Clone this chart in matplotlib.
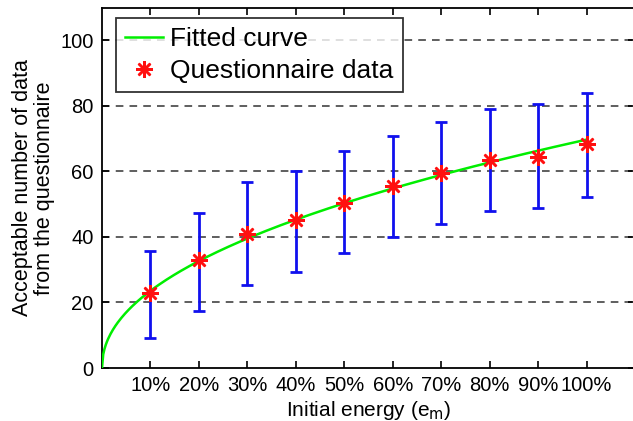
import numpy as np
import matplotlib
matplotlib.use("Agg")
import matplotlib.pyplot as plt

plt.rcParams['font.family'] = ['Liberation Sans', 'DejaVu Sans']

categories = ['10%', '20%', '30%', '40%', '50%', '60%', '70%', '80%', '90%', '100%']
x_pos = [1, 2, 3, 4, 5, 6, 7, 8, 9, 10]
means = [22.9, 32.9, 40.9, 45.1, 50.3, 55.6, 59.5, 63.4, 64.3, 68.3]
upper = [35.8, 47.4, 56.8, 60.1, 66.2, 70.7, 75.0, 79.0, 80.6, 84.0]
lower = [9.1, 17.3, 25.2, 29.4, 35.0, 40.0, 44.0, 47.9, 48.7, 52.2]
y_ticks = [0, 20, 40, 60, 80, 100]

xp = np.array(x_pos, dtype=float)
mv = np.array(means)
b, loga = np.polyfit(np.log(xp), np.log(mv), 1)
a = np.exp(loga)
xc = np.linspace(0, 10, 400)
yc = a * xc ** b

fig = plt.figure(figsize=(6.33, 4.21), dpi=100)
ax = fig.add_axes([102/633, 53/421, 533/633, 360/421])

ax.plot(xc, yc, color='#00ee00', lw=1.8, label='Fitted curve', zorder=3)
yerr = [mv - np.array(lower), np.array(upper) - mv]
ax.errorbar(xp, mv, yerr=yerr, fmt='none', ecolor='#1010ee', elinewidth=2,
            capsize=4, capthick=2, zorder=2)
ax.plot(xp, mv, linestyle='none', marker=(8, 2, 0), markersize=12,
        markeredgewidth=1.8, color='#ff1010', label='Questionnaire data', zorder=4)

ax.set_xlim(0, 11)
ax.set_ylim(0, 109.8)
ax.set_xticks(x_pos)
ax.set_xticklabels(categories)
ax.set_yticks(y_ticks)
for t in y_ticks[1:]:
    ax.axhline(t, color='#333333', lw=1.1, linestyle=(0, (5, 4)), zorder=1)

ax.tick_params(direction='in', length=5, width=1.2, labelsize=14.5,
               top=True, right=True, pad=6)
for s in ax.spines.values():
    s.set_linewidth(1.3)

ax.set_xlabel('Initial energy (e$_\\mathrm{m}$)', fontsize=15, labelpad=3)
ax.set_ylabel('Acceptable number of data\nfrom the questionnaire', fontsize=15.5,
              labelpad=4, linespacing=1.05)

leg = ax.legend(loc='upper left', bbox_to_anchor=(0.026, 0.972), fontsize=19,
                frameon=True, fancybox=False, edgecolor='black',
                handlelength=1.45, handletextpad=0.27, borderpad=0.35,
                labelspacing=0.3, borderaxespad=0.0)
leg.get_frame().set_linewidth(1.3)

fig.savefig('out.png', dpi=100)
